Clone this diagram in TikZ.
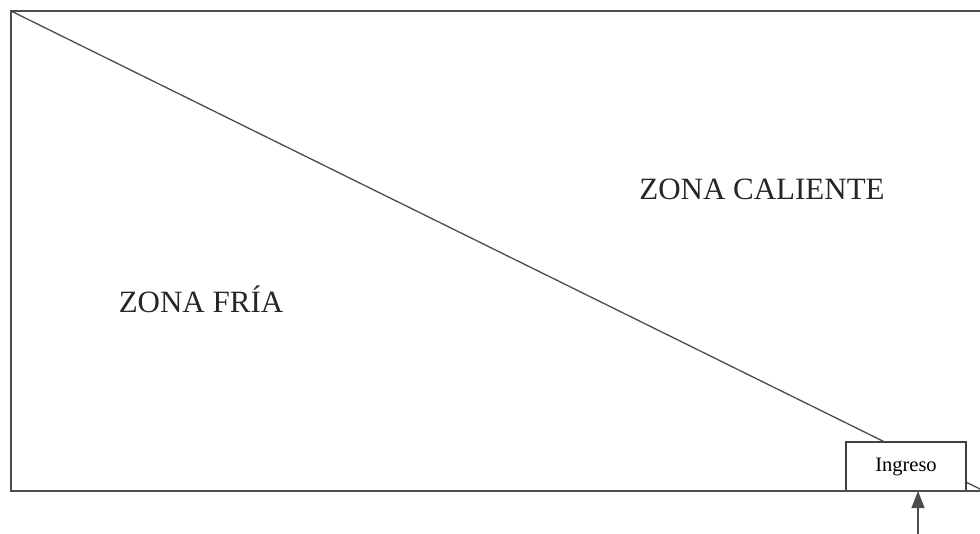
\documentclass[tikz,border=0pt]{standalone}
\usepackage{fontspec}
\setmainfont{Liberation Serif}
\usetikzlibrary{arrows.meta}
\begin{document}
\begin{tikzpicture}[x=1pt,y=-1pt,
  edge/.style={draw=black!70,line width=1.3pt},
  zonelabel/.style={font=\fontsize{31}{36}\selectfont,text=black!85},
  boxnode/.style={draw=black!75,line width=1.3pt,fill=white,minimum width=120pt,minimum height=49pt,inner sep=0pt,font=\fontsize{20.5}{24}\selectfont}]
\useasboundingbox (0,0) rectangle (980,534);
\coordinate (tl) at (11,11);
\coordinate (tr) at (980,11);
\coordinate (bl) at (11,491);
\coordinate (br) at (980,491);
\coordinate (diagend) at (980,489);
\draw[edge] (tr) -- (tl) -- (bl) -- (br);
\draw[edge] (tl) -- (diagend);
\node[boxnode] (ingreso) at (906,466.5) {\raisebox{-2pt}{Ingreso}};
\draw[edge] (bl) -- (br);
\coordinate (arrstart) at (918,534);
\coordinate (arrend) at (918,491);
\draw[edge,-{Triangle[length=17pt,width=13pt]}] (arrstart) -- (arrend);
\node[zonelabel] (caliente) at (762,189) {ZONA CALIENTE};
\node[zonelabel] (fria) at (201,299) {ZONA FRÍA};
\end{tikzpicture}
\end{document}
